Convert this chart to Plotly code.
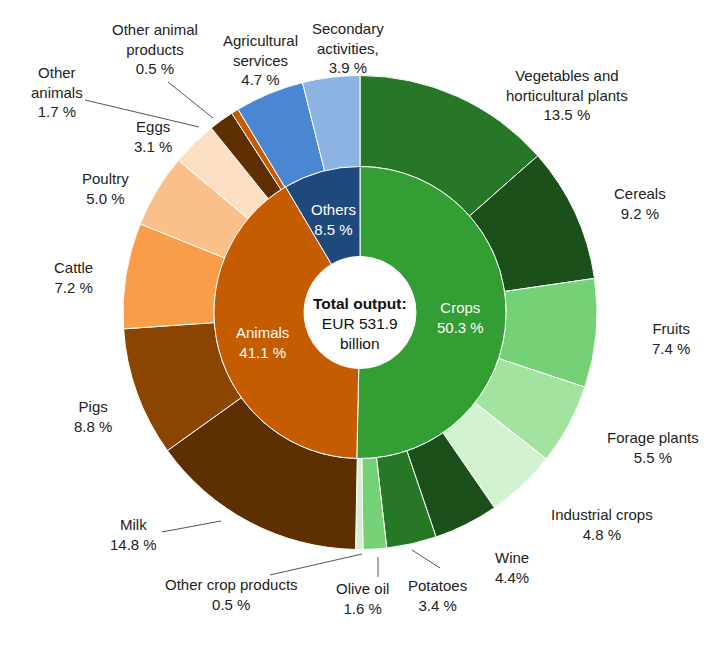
import math

import plotly.graph_objects as go

WIDTH, HEIGHT = 715, 645
PAGE_MARGIN = 8  # body margin of the html page

# inner ring
group_labels = ["Crops", "Animals", "Others"]
group_values = [50.3, 41.1, 8.5]

# outer ring (clockwise from 12 o'clock)
item_labels = [
    "Vegetables and<br>horticultural plants",
    "Cereals",
    "Fruits",
    "Forage plants",
    "Industrial crops",
    "Wine",
    "Potatoes",
    "Olive oil",
    "Other crop products",
    "Milk",
    "Pigs",
    "Cattle",
    "Poultry",
    "Eggs",
    "Other<br>animals",
    "Other animal<br>products",
    "Agricultural<br>services",
    "Secondary<br>activities,",
]
item_values = [13.5, 9.2, 7.4, 5.5, 4.8, 4.4, 3.4, 1.6, 0.5,
               14.8, 8.8, 7.2, 5.0, 3.1, 1.7, 0.5,
               4.7, 3.9]
item_value_text = ["13.5 %", "9.2 %", "7.4 %", "5.5 %", "4.8 %", "4.4%", "3.4 %", "1.6 %", "0.5 %",
                   "14.8 %", "8.8 %", "7.2 %", "5.0 %", "3.1 %", "1.7 %", "0.5 %",
                   "4.7 %", "3.9 %"]

group_colors = ["#339e33", "#c55c00", "#1f497d"]
item_colors = [
    "#267826", "#1c501b", "#75d175", "#a3e3a0", "#d2f2d0",
    "#1c501b", "#267826", "#75d175", "#d2f2d0",
    "#5e2f00", "#8c4500", "#f99d48", "#fbc08a", "#fde0c3",
    "#5e2f00", "#c55c00",
    "#4a86d2", "#8db3e2",
]

# geometry in screen pixels
CX, CY = 360, 312.5
R_HOLE, R_MID, R_OUT = 56, 146, 237

# label centres (screen px) for the outer items
label_pos = [
    (567, 95), (640, 203), (671, 338), (653, 447), (602, 524),
    (512, 567), (438, 595), (362, 598), (231, 594),
    (133, 534), (93, 416), (73, 277), (105, 188), (153, 137),
    (57, 92), (155, 49), (260, 60), (348, 48),
]
leader_lines = [
    ((168, 82), (213, 118)),
    ((85, 100), (199, 127)),
    ((162, 532), (221, 521)),
    ((270, 575), (362, 554)),
    ((378, 557), (378, 577)),
    ((412, 550), (440, 568)),
]

FONT = "Arial, Liberation Sans, sans-serif"
TEXT_COLOR = "#222222"


def px(x):
    return (x - PAGE_MARGIN) / WIDTH


def py(y):
    return 1 - (y - PAGE_MARGIN) / HEIGHT


def domain(r):
    return {"x": [px(CX - r), px(CX + r)], "y": [py(CY + r), py(CY - r)]}


fig = go.Figure()
fig.add_trace(go.Pie(
    labels=item_labels, values=item_values, sort=False, direction="clockwise",
    hole=R_MID / R_OUT, domain=domain(R_OUT), textinfo="none", hoverinfo="label+value",
    marker={"colors": item_colors, "line": {"color": "white", "width": 1}},
    showlegend=False,
))
fig.add_trace(go.Pie(
    labels=group_labels, values=group_values, sort=False, direction="clockwise",
    hole=R_HOLE / R_MID, domain=domain(R_MID), textinfo="none", hoverinfo="label+value",
    marker={"colors": group_colors, "line": {"color": "white", "width": 1}},
    showlegend=False,
))

annotations = []
for text, value, (lx, ly) in zip(item_labels, item_value_text, label_pos):
    annotations.append(dict(
        x=px(lx), y=py(ly), xref="paper", yref="paper", showarrow=False,
        text=f"{text}<br>{value}", xanchor="center", yanchor="middle",
        font={"family": FONT, "size": 15, "color": TEXT_COLOR},
    ))

# inner ring labels at slice mid-angle
total = sum(group_values)
start = 0.0
r_text = (R_HOLE + R_MID) / 2
for label, value in zip(group_labels, group_values):
    mid = (start + value / 2) / total * 2 * math.pi
    start += value
    annotations.append(dict(
        x=px(CX + r_text * math.sin(mid)), y=py(CY - r_text * math.cos(mid) + 4),
        xref="paper", yref="paper", showarrow=False,
        text=f"{label}<br>{value:.1f} %", xanchor="center", yanchor="middle",
        font={"family": FONT, "size": 15, "color": "white"},
    ))

annotations.append(dict(
    x=px(CX), y=py(CY + 11), xref="paper", yref="paper", showarrow=False,
    text="<b>Total output:</b><br>EUR 531.9<br>billion", xanchor="center", yanchor="middle",
    font={"family": FONT, "size": 15.5, "color": "#111111"},
))

shapes = [
    dict(type="line", xref="paper", yref="paper",
         x0=px(a[0]), y0=py(a[1]), x1=px(b[0]), y1=py(b[1]),
         line={"color": "#555555", "width": 1})
    for a, b in leader_lines
]

fig.update_layout(
    width=WIDTH, height=HEIGHT,
    margin={"l": 0, "r": 0, "t": 0, "b": 0},
    paper_bgcolor="white", plot_bgcolor="white",
    annotations=annotations, shapes=shapes,
)
fig.write_html("out.html")
